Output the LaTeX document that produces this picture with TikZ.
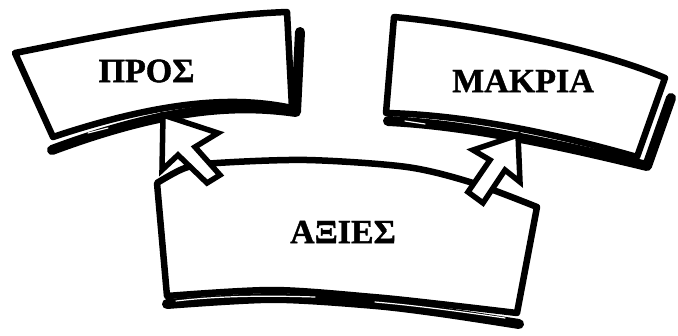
\documentclass[tikz,border=0pt]{standalone}
\usepackage{fontspec}
\setmainfont{Liberation Serif}
\newfontfamily\lblfont[FakeBold=1.2]{Liberation Serif}
\tikzset{
  boxline/.style={draw=black, fill=white, line width=6.5pt, line join=round, line cap=round},
  shadowline/.style={draw=black, line width=10pt, line join=round, line cap=round},
  gapline/.style={draw=white, line width=1.2pt, line cap=round},
  arrowshape/.style={draw=black, fill=white, line width=5.5pt, line join=miter, miter limit=3},
  label/.style={inner sep=0pt, font=\fontsize{34}{34}\selectfont\lblfont\bfseries}
}
\begin{document}
\begin{tikzpicture}[x=1pt,y=-1pt]
\useasboundingbox (0,0) rectangle (678,335);
% ---- left box (PROS)
\draw[shadowline] (300,32) -- (296,112) .. controls (240,104) and (170,106) .. (52,150);
\draw[boxline] (15,53) .. controls (90,38) and (200,15) .. (287,12) -- (292,108)
   .. controls (240,97) and (170,98) .. (53,137) -- cycle;
\draw[gapline] (88,133) -- (108,128);
% ---- right box (MAKRIA)
\draw[shadowline] (671,98) -- (647,166) .. controls (560,145) and (470,125) .. (388,121);
\draw[boxline] (394,17) .. controls (480,25) and (600,50) .. (665,78) -- (637,157)
   .. controls (560,135) and (470,115) .. (386,113) -- cycle;
\draw[gapline] (405,121) -- (425,124);
\draw[gapline] (646,115) -- (641,132);
% ---- bottom box (AXIES)
\draw[shadowline] plot[smooth] coordinates {(167,304) (273,298) (373,304) (440,312) (519,324)};
\draw[boxline] plot[smooth] coordinates {(157,183) (185,168) (217,163) (307,160) (407,167) (473,183) (537,207)}
   -- (517,313) -- plot[smooth] coordinates {(517,313) (440,304) (373,297) (273,290) (167,296)} -- cycle;
\draw[gapline] (176,301) .. controls (210,297) and (250,295) .. (315,297);
\draw[gapline] (375,302) .. controls (410,305) and (450,310) .. (505,318);
% ---- arrows
\draw[arrowshape] (163,115) -- (162,170) -- (178,155) -- (207,183) -- (220,175) -- (195,147) -- (218,133) -- cycle;
\draw[arrowshape] (518,135) -- (520,182) -- (505,170) -- (483,203) -- (468,192) -- (490,160) -- (473,150) -- cycle;
% ---- labels
\node[label] (pros) at (146.5,71) {ΠΡΟΣ};
\node[label] (makria) at (523,81) {ΜΑΚΡΙΑ};
\node[label] (axies) at (343,232) {ΑΞΙΕΣ};
\end{tikzpicture}
\end{document}
